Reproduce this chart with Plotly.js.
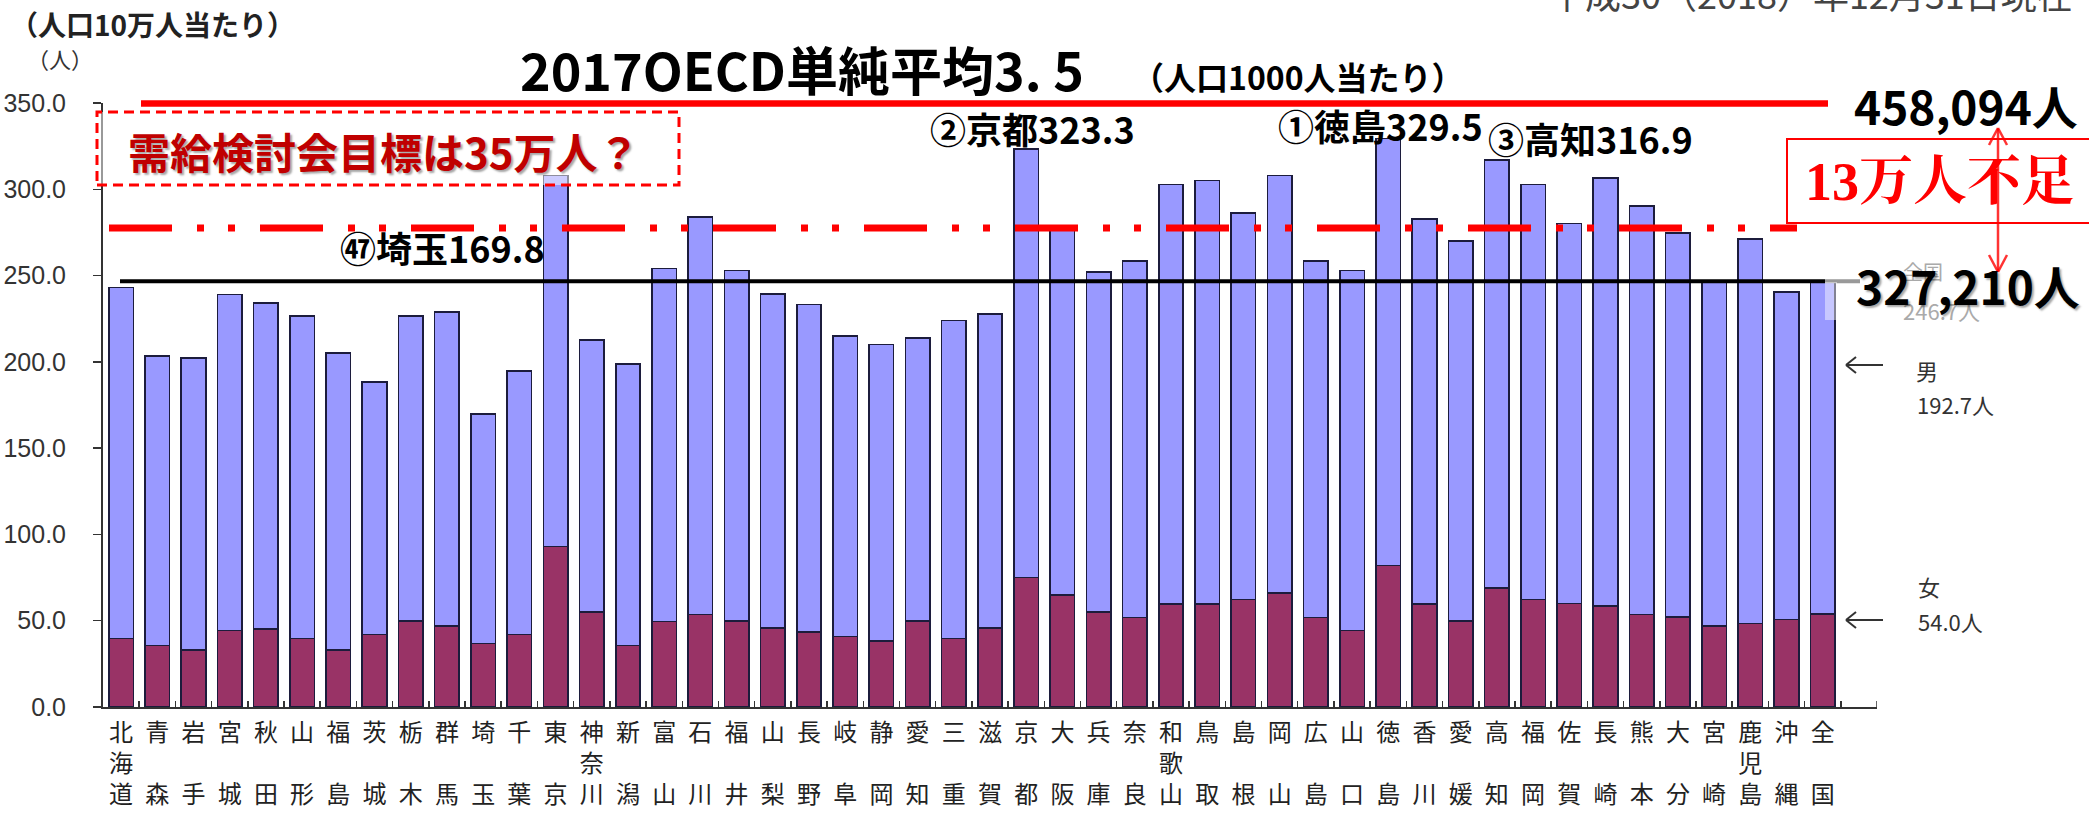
<!DOCTYPE html>
<html>
<head>
<meta charset="utf-8">
<script src="https://cdn.plot.ly/plotly-3.0.1.min.js"></script>
<style>html,body{margin:0;padding:0;background:#fff;}#chart{width:2089px;height:813px;}</style>
</head>
<body>
<div id="chart"></div>
<script>
// ---- data ----
const prefectures = ['北海道','青森','岩手','宮城','秋田','山形','福島','茨城','栃木','群馬','埼玉','千葉','東京','神奈川','新潟','富山','石川','福井','山梨','長野','岐阜','静岡','愛知','三重','滋賀','京都','大阪','兵庫','奈良','和歌山','鳥取','島根','岡山','広島','山口','徳島','香川','愛媛','高知','福岡','佐賀','長崎','熊本','大分','宮崎','鹿児島','沖縄','全国'];
const female = [39.6,35.6,33.1,44.3,45.3,39.6,32.9,41.9,50.0,47.0,36.8,41.9,92.9,54.9,35.6,49.6,53.5,50.0,45.8,43.3,40.9,38.2,49.8,39.6,45.8,75.0,64.9,54.9,51.9,59.6,59.6,62.4,66.1,51.9,44.3,81.9,59.6,49.8,69.1,62.4,60.0,58.6,53.5,52.1,47.0,48.4,50.8,54.0];
const male = [203.4,167.9,169.0,194.8,188.9,187.1,172.1,146.4,176.7,182.0,133.0,152.7,215.0,157.6,163.1,204.6,230.3,203.0,193.6,189.9,174.2,171.8,163.9,184.3,182.1,248.3,213.1,197.0,206.4,243.1,245.6,223.9,241.8,206.4,208.7,247.6,223.2,220.1,247.8,240.3,220.1,248.0,236.7,222.6,199.5,222.8,189.7,192.7];
const yTickVals = [0,50,100,150,200,250,300,350];
const targetLevel = 277.6;  // dash-dot target line

// ---- layout helpers (pixel -> paper) ----
const L = 103, R = 1877, T = 103, B = 707;
const px = p => (p - L) / (R - L);
const py = p => (B - p) / (B - T);

const vLabels = prefectures.map(n => n.length === 2 ? n[0] + '<br>\u3000<br>' + n[1] : n.split('').join('<br>'));
const nationalTotal = male[male.length - 1] + female[female.length - 1];

const CJK = 'Noto Sans CJK JP';
const NUM = 'Liberation Sans Narrow, Liberation Sans, Noto Sans CJK JP';

const traces = [
  {type:'bar', x: vLabels, y: female, name:'女', marker:{color:'#993366', line:{color:'#1c1c3c', width:1.6}}, hoverinfo:'y'},
  {type:'bar', x: vLabels, y: male, name:'男', marker:{color:'#9999FF', line:{color:'#1c1c3c', width:1.6}}, hoverinfo:'y'}
];

function ann(text, cx, cy, size, color, opts) {
  return Object.assign({
    text: text, xref:'paper', yref:'paper', x: px(cx), y: py(cy),
    xanchor:'center', yanchor:'middle', showarrow:false,
    font:{family: CJK, size: size, color: color}
  }, opts || {});
}
function seg(x0, y0, x1, y1, color, w, extra) {
  return Object.assign({type:'line', xref:'paper', yref:'paper', x0: px(x0), y0: py(y0), x1: px(x1), y1: py(y1),
    line:{color: color, width: w}, layer:'above'}, extra || {});
}

const annotations = [
  ann('<b>（人口10万人当たり）</b>', 152, 24, 28, '#222'),
  ann('（人）', 60, 58, 22, '#333'),
  ann('平成30（2018）年12月31日現在', 1811, -7, 36, '#444'),
  ann('<b>2017OECD単純平均3. 5</b>', 802, 68, 50, '#000', {font:{family:'Liberation Sans Narrow, '+CJK, size:52, color:'#000'}}),
  ann('<b>（人口1000人当たり）</b>', 1298, 76, 32, '#000'),
  ann('<b>需給検討会目標は35万人？</b>', 384, 150, 42, '#C00000', {font:{family:CJK, size:42, color:'#C00000', shadow:'2px 2px 2px rgba(0,0,0,0.35)'}}),
  ann('<b>②京都323.3</b>', 1032, 128, 36, '#000'),
  ann('<b>①徳島329.5</b>', 1380, 125, 36, '#000'),
  ann('<b>③高知316.9</b>', 1590, 138, 36, '#000'),
  ann('<b>㊼埼玉169.8</b>', 442, 247, 36, '#000'),
  ann('<b>458,094人</b>', 1966, 105, 46, '#000'),
  ann('<b>13万人不足</b>', 1940, 182, 52, '#FF0000', {font:{family:'Liberation Serif, Noto Serif CJK JP, '+CJK, size:54, color:'#FF0000'}}),
  ann('全国', 1923, 271, 20, '#aaa'),
  ann('246.7人', 1942, 310, 22, '#aaa'),
  ann('<b>327,210人</b>', 1968, 285, 46, '#000', {font:{family:CJK, size:46, color:'#000', shadow:'2px 2px 2px rgba(0,0,0,0.35)'}}),
  ann('男', 1927, 370, 22, '#333'),
  ann('192.7人', 1956, 404, 22, '#333'),
  ann('女', 1929, 586, 22, '#333'),
  ann('54.0人', 1951, 621, 22, '#333')
];

const shapes = [
  // dashed red box
  {type:'rect', xref:'paper', yref:'paper', x0: px(97), x1: px(679), y0: py(185), y1: py(112),
   line:{color:'#FF0000', width:3, dash:'10px,6px'}, fillcolor:'rgba(255,255,255,0.5)', layer:'above'},
  // national average line
  {type:'line', xref:'paper', yref:'y', x0: px(120), x1: px(1825), y0: nationalTotal, y1: nationalTotal,
   line:{color:'#000', width:4}, layer:'above'},
  {type:'line', xref:'paper', yref:'y', x0: px(1825), x1: px(1860), y0: nationalTotal, y1: nationalTotal,
   line:{color:'#999', width:4}, layer:'above'},
  {type:'rect', xref:'paper', yref:'paper', x0: px(1825), x1: px(1837), y0: py(320), y1: py(282),
   line:{width:0}, fillcolor:'rgba(255,255,255,0.45)', layer:'above'},
  // OECD line (350 per 100k)
  seg(141, 103.5, 1828, 103.5, '#FF0000', 6.5),
  // target dash-dot line
  {type:'line', xref:'paper', yref:'y', x0: px(109), x1: px(1797), y0: targetLevel, y1: targetLevel,
   line:{color:'#FF0000', width:7, dash:'63px,25px,7px,24px,7px,25px'}, layer:'above'},
  // red box (13万人不足)
  {type:'rect', xref:'paper', yref:'paper', x0: px(1787), x1: px(2100), y0: py(223), y1: py(139),
   line:{color:'#FF0000', width:2}, fillcolor:'rgba(0,0,0,0)', layer:'above'},
  // double arrow
  seg(1998, 129, 1998, 271, 'rgba(255,0,0,0.8)', 2.5),
  seg(1998, 128, 1989, 145, 'rgba(255,0,0,0.8)', 2.5),
  seg(1998, 128, 2007, 145, 'rgba(255,0,0,0.8)', 2.5),
  seg(1998, 272, 1989, 255, 'rgba(255,0,0,0.8)', 2.5),
  seg(1998, 272, 2007, 255, 'rgba(255,0,0,0.8)', 2.5),
  // left arrows (男, 女)
  seg(1846, 365, 1883, 365, '#333', 2),
  seg(1846, 365, 1856, 357, '#333', 2),
  seg(1846, 365, 1856, 373, '#333', 2),
  seg(1846, 620, 1883, 620, '#333', 2),
  seg(1846, 620, 1856, 612, '#333', 2),
  seg(1846, 620, 1856, 628, '#333', 2),
  // end ticks of x axis
  {type:'line', xref:'x', yref:'paper', x0: 47.5, x1: 47.5, y0: 0, y1: 6/604, line:{color:'#333', width:1.5}},
  {type:'line', xref:'x', yref:'paper', x0: 48.5, x1: 48.5, y0: 0, y1: 6/604, line:{color:'#333', width:1.5}}
];

const layout = {
  width: 2089, height: 813,
  margin: {l: L, r: 2089 - R, t: T, b: 813 - B, pad: 0},
  paper_bgcolor: '#fff', plot_bgcolor: '#fff',
  barmode: 'stack', bargap: 0.323, showlegend: false,
  xaxis: {
    type: 'category', range: [-0.5, 48.5], tickson: 'boundaries',
    tickmode: 'linear', tick0: 0, dtick: 1,
    ticks: 'inside', ticklen: 6, tickwidth: 1.5, tickcolor: '#333',
    showline: true, linecolor: '#333', linewidth: 2, showgrid: false, zeroline: false,
    tickfont: {family: CJK, size: 24, color: '#222'}, tickangle: 0, ticklabelstandoff: 3
  },
  yaxis: {
    range: [0, 350], tickmode: 'array', tickvals: yTickVals, tickformat: '.1f',
    ticks: 'outside', ticklen: 8, tickwidth: 1.5, tickcolor: '#333',
    showline: true, linecolor: '#333', linewidth: 2, showgrid: false, zeroline: false,
    tickfont: {family: NUM, size: 25, color: '#333'}, ticklabelstandoff: 22
  },
  annotations: annotations,
  shapes: shapes
};

Plotly.newPlot('chart', traces, layout, {displayModeBar: false, staticPlot: true});
</script>
</body>
</html>
